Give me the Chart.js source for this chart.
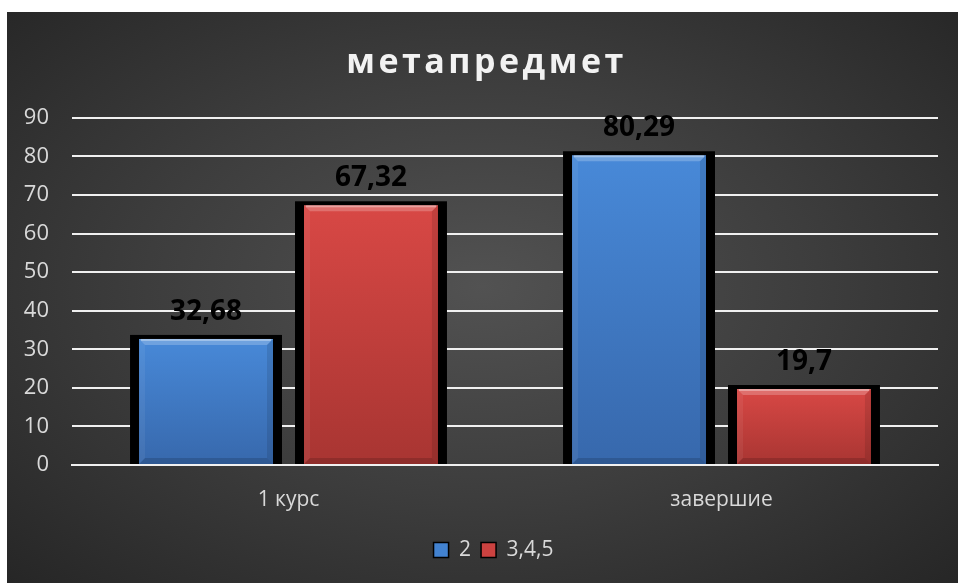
<!DOCTYPE html>
<html><head><meta charset="utf-8">
<script src="https://cdn.jsdelivr.net/npm/chart.js@4.4.1/dist/chart.umd.min.js"></script>
<style>
html,body{margin:0;padding:0;background:#fff;}
#wrap{position:absolute;left:7px;top:12px;width:951px;height:571px;
background:radial-gradient(ellipse farthest-corner at 50% 48%, #525252 0%, #3d3d3d 50%, #262626 100%);}
canvas{display:block;}
</style></head><body>
<div id="wrap"><canvas id="c" width="951" height="571"></canvas></div>
<script>
const categories = ['1 курс', 'завершие'];
const seriesNames = ['2', '3,4,5'];
const series2 = [32.68, 80.29];
const series345 = [67.32, 19.7];
const yTicks = [0, 10, 20, 30, 40, 50, 60, 70, 80, 90];

const FONT = '"Open Sans", "Noto Sans", sans-serif';
const palette = [
  {top:'#4889d8', bottom:'#3768ac', flat:'#4282d0'},
  {top:'#d84845', bottom:'#a83532', flat:'#cc4240'}
];

function barFill(i){
  return function(ctx){
    const chart = ctx.chart;
    const y = chart.scales && chart.scales.y;
    if(!chart.chartArea || !y || ctx.raw === undefined) return palette[i].flat;
    const t = y.getPixelForValue(ctx.raw), b = y.getPixelForValue(0);
    const g = chart.ctx.createLinearGradient(0, t, 0, b);
    g.addColorStop(0, palette[i].top);
    g.addColorStop(1, palette[i].bottom);
    return g;
  };
}

const fmt = v => String(v).replace('.', ',');

const framePlugin = {
  id: 'frame',
  afterInit(chart){
    const tb = chart.titleBlock;
    if(tb && !tb._spaced){
      const orig = tb.draw;
      tb.draw = function(){
        const c = this.ctx; c.save();
        try { c.letterSpacing = '3.5px'; } catch(e) {}
        orig.apply(this, arguments);
        c.restore();
      };
      tb._spaced = true;
    }
  },
  afterLayout(chart){
    const l = chart.legend;
    if(l){ l.left += 21; l.right += 21; }
    const tb = chart.titleBlock;
    if(tb){ tb.left += 14; tb.right += 14; }
  },
  beforeDatasetsDraw(chart){
    const ctx = chart.ctx; ctx.save(); ctx.fillStyle = '#000';
    chart.data.datasets.forEach((ds, i) => {
      chart.getDatasetMeta(i).data.forEach(bar => {
        const w = bar.width;
        ctx.fillRect(bar.x - w/2 - 9, bar.y - 4, w + 18, bar.base - bar.y + 4);
      });
    });
    ctx.restore();
  },
  afterDatasetsDraw(chart){
    const ctx = chart.ctx; ctx.save();
    chart.data.datasets.forEach((ds, i) => {
      chart.getDatasetMeta(i).data.forEach((bar, j) => {
        const w = bar.width, x0 = bar.x - w/2, x1 = bar.x + w/2, y0 = bar.y, y1 = bar.base, b = 6;
        ctx.fillStyle = 'rgba(255,255,255,0.22)';
        ctx.beginPath(); ctx.moveTo(x0,y0); ctx.lineTo(x1,y0); ctx.lineTo(x1-b,y0+b); ctx.lineTo(x0+b,y0+b); ctx.closePath(); ctx.fill();
        ctx.fillStyle = 'rgba(255,255,255,0.06)';
        ctx.beginPath(); ctx.moveTo(x0,y0); ctx.lineTo(x0+b,y0+b); ctx.lineTo(x0+b,y1-b); ctx.lineTo(x0,y1); ctx.closePath(); ctx.fill();
        ctx.fillStyle = 'rgba(0,0,0,0.10)';
        ctx.beginPath(); ctx.moveTo(x1,y0); ctx.lineTo(x1-b,y0+b); ctx.lineTo(x1-b,y1-b); ctx.lineTo(x1,y1); ctx.closePath(); ctx.fill();
        ctx.fillStyle = 'rgba(0,0,0,0.15)';
        ctx.beginPath(); ctx.moveTo(x0,y1); ctx.lineTo(x0+b,y1-b); ctx.lineTo(x1-b,y1-b); ctx.lineTo(x1,y1); ctx.closePath(); ctx.fill();
        ctx.fillStyle = 'rgba(255,255,255,0.35)';
        ctx.fillRect(x0+2, y0, w-4, 2);
        ctx.fillStyle = '#000';
        ctx.font = 'bold 28px ' + FONT;
        ctx.textAlign = 'center'; ctx.textBaseline = 'alphabetic';
        ctx.fillText(fmt(ds.data[j]), bar.x, bar.y - 19);
      });
    });
    ctx.restore();
  }
};

new Chart(document.getElementById('c'), {
  type: 'bar',
  data: {
    labels: categories,
    datasets: [
      {label: seriesNames[0], data: series2, backgroundColor: barFill(0), borderWidth: 0,
       categoryPercentage: 0.762, barPercentage: 0.812},
      {label: seriesNames[1], data: series345, backgroundColor: barFill(1), borderWidth: 0,
       categoryPercentage: 0.762, barPercentage: 0.812}
    ]
  },
  plugins: [framePlugin],
  options: {
    responsive: false,
    animation: false,
    devicePixelRatio: 1,
    layout: {padding: {left: 0, right: 20, top: 0, bottom: 12.5}},
    plugins: {
      title: {display: true, text: 'метапредмет', color: '#f2f2f2',
        font: {family: FONT, size: 34, weight: 'bold'}, padding: {top: 31, bottom: 34}},
      legend: {position: 'bottom',
        labels: {color: '#d9d9d9', font: {family: FONT, size: 21}, boxWidth: 15, boxHeight: 15, padding: 10,
          generateLabels(chart){
            return chart.data.datasets.map((ds, i) => ({
              text: ds.label, fillStyle: palette[i].flat, strokeStyle: '#000', lineWidth: 1.5,
              fontColor: '#d9d9d9', hidden: false, datasetIndex: i
            }));
          }}},
      tooltip: {enabled: false}
    },
    scales: {
      x: {
        grid: {display: false},
        border: {display: true, color: '#f0f0f0', width: 2, z: 1},
        ticks: {color: '#d9d9d9', font: {family: FONT, size: 21}, padding: 14},
        afterFit(s){ s.height = 64.5; }
      },
      y: {
        min: 0, max: 90,
        afterBuildTicks(s){ s.ticks = yTicks.map(v => ({value: v})); },
        ticks: {color: '#d9d9d9', font: {family: FONT, size: 22}, padding: 23},
        grid: {color: '#f0f0f0', lineWidth: 2, drawTicks: false},
        border: {display: false},
        afterFit(s){ s.width = 65; }
      }
    }
  }
});
</script>
</body></html>
